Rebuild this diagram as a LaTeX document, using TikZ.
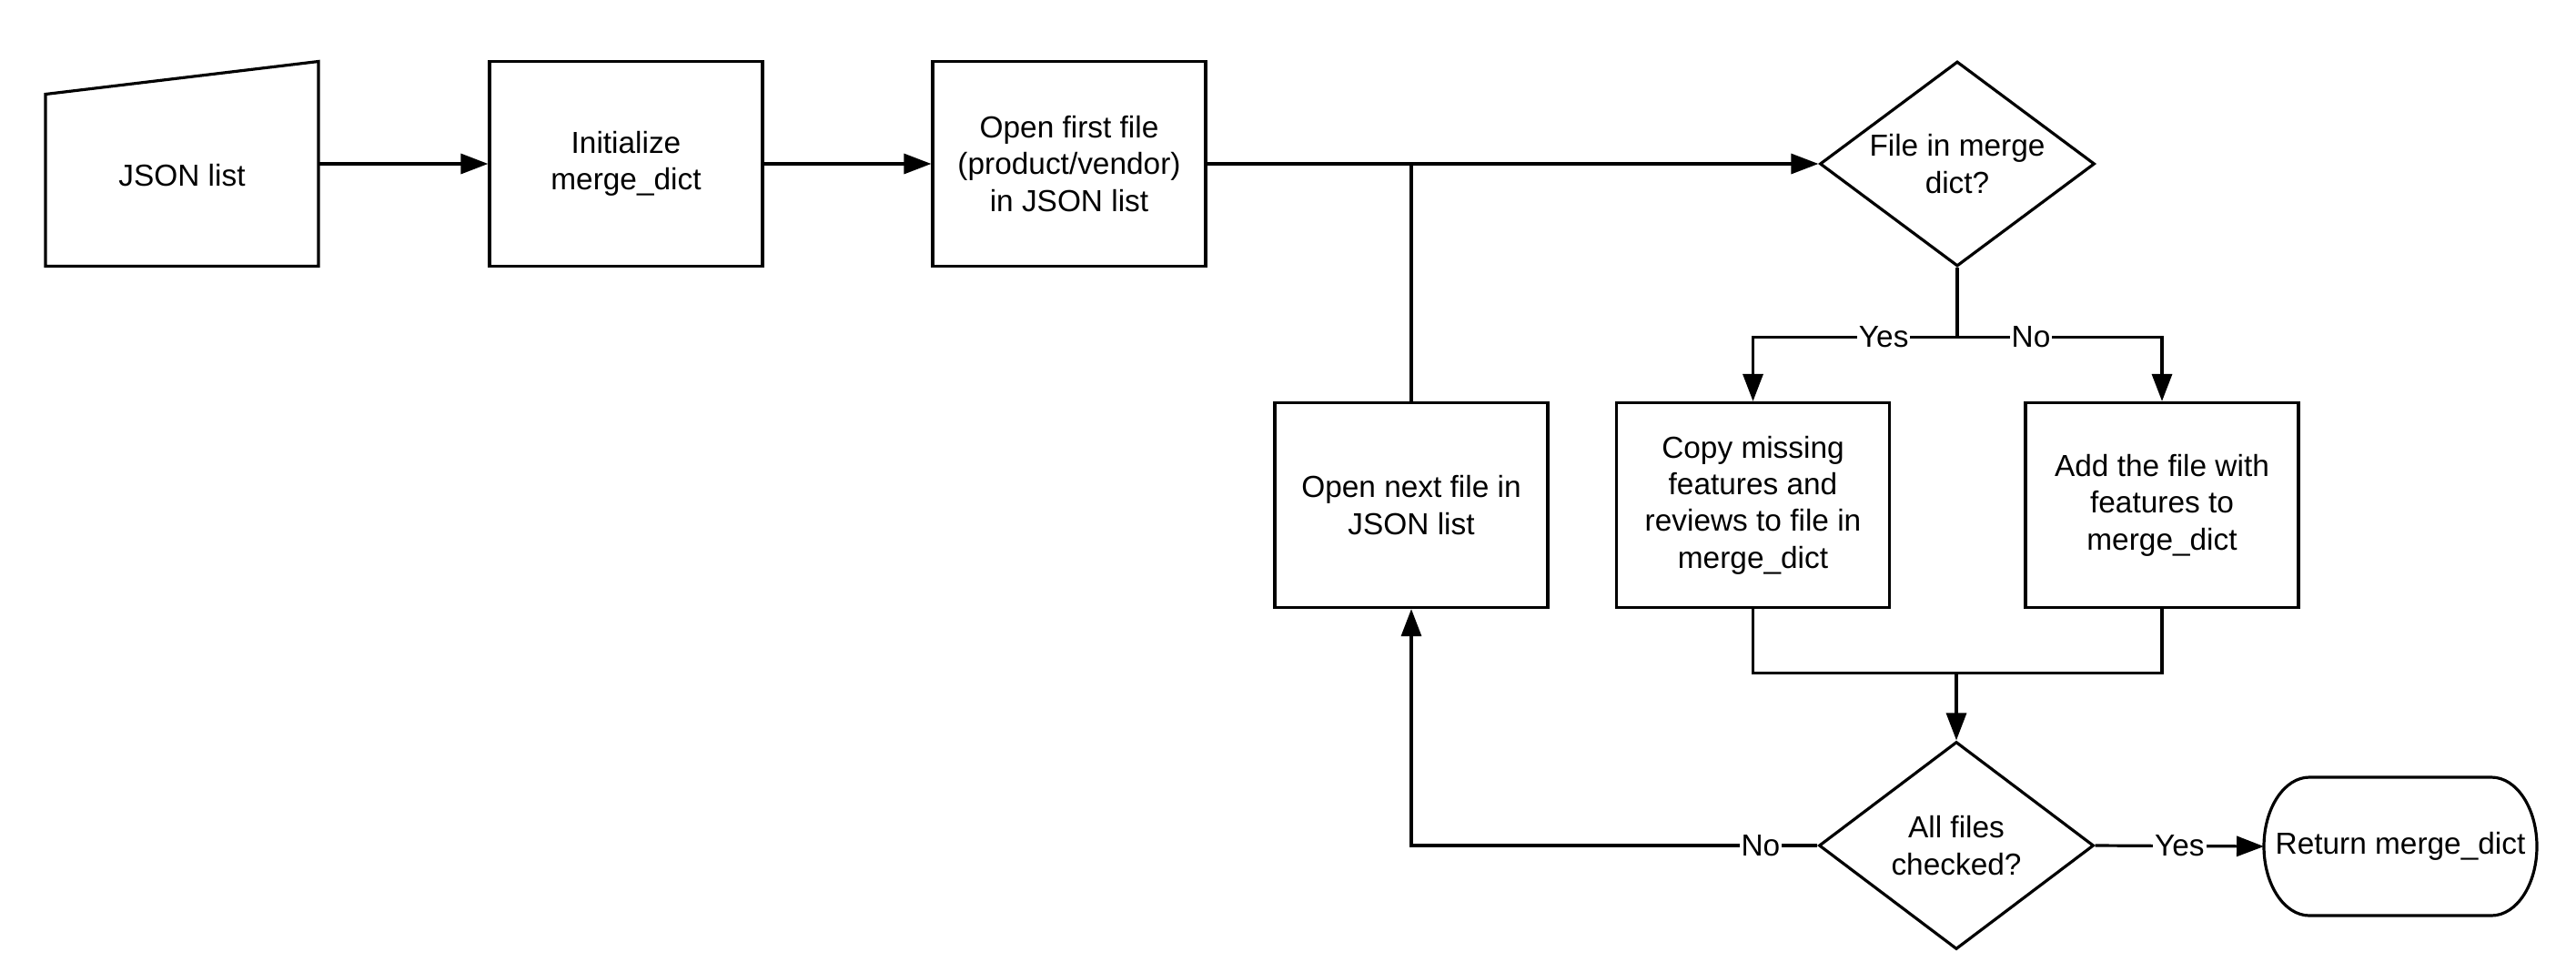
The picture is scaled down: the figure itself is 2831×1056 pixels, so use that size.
\documentclass[tikz,border=0pt]{standalone}
\usepackage{fontspec}
\setmainfont{Liberation Sans}
\usetikzlibrary{arrows.meta,shapes.geometric,calc}
\begin{document}
\begin{tikzpicture}[x=0.5pt,y=-0.5pt,
  every node/.style={font=\fontsize{16.7pt}{20.2pt}\selectfont},
  box/.style={draw, line width=1.6pt, minimum width=150pt, minimum height=112.5pt, inner sep=0pt, align=center},
  ghost/.style={box, draw=none, outer sep=0pt},
  dia/.style={draw, diamond, line width=1.6pt, shape aspect=1.34, minimum width=151pt, minimum height=112.5pt, inner sep=0pt, align=center},
  conn/.style={line width=1.6pt},
  arr/.style={conn, -{Triangle[length=15pt,width=11pt]}},
  lbl/.style={fill=white, inner sep=1pt}]
\useasboundingbox (0,0) rectangle (2831,1056);

% nodes
\node[ghost] (json) at (200,180) {};
\node (jsonlbl) at ($(json.center)+(0,13)$) {JSON list};
\draw[conn] ($(json.north west)!0.16!(json.south west)$) -- (json.north east) -- (json.south east) -- (json.south west) -- cycle;
\node[box] (init) at (688,180) {Initialize\\merge\_dict};
\node[box] (open1) at (1175,180) {Open first file\\(product/vendor)\\in JSON list};
\node[dia] (d1) at (2151,180) {File in merge\\dict?};
\node[box] (next) at (1551,555) {Open next file in\\JSON list};
\node[box] (copy) at (1926.5,555) {Copy missing\\features and\\reviews to file in\\merge\_dict};
\node[box] (add) at (2376,555) {Add the file with\\features to\\merge\_dict};
\node[dia, minimum height=114pt] (d2) at (2150,929) {All files\\checked?};
\node[ghost, minimum height=76pt] (ret) at (2638,930) {Return merge\_dict};
\draw[conn] ($(ret.north west)+(50,0)$) -- ($(ret.north east)+(-50,0)$)
  arc[start angle=90,end angle=-90,x radius=25pt,y radius=38pt]
  -- ($(ret.south west)+(50,0)$)
  arc[start angle=270,end angle=90,x radius=25pt,y radius=38pt] -- cycle;

% connectors
\draw[arr] (json.east) -- (init.west);
\draw[arr] (init.east) -- (open1.west);
\draw[arr] (open1.east) -- (d1.west);
\draw[conn] (next.north) -- (next.north |- open1.east);
\coordinate (split) at ($(d1.south)+(0,76)$);
\draw[conn] (d1.south) -- (split);
\draw[arr] (split) -| node[lbl,pos=0.18]{Yes} (copy.north);
\draw[arr] (split) -| node[lbl,pos=0.18]{No} (add.north);
\coordinate (merge) at ($(d2.north)+(0,-74)$);
\draw[conn] (copy.south) |- (merge);
\draw[conn] (add.south) |- (merge);
\draw[arr] (merge) -- (d2.north);
\draw[arr] (d2.west) -| node[lbl,pos=0.07]{No} (next.south);
\draw[arr] (d2.east) -- node[lbl]{Yes} (ret.west);
\end{tikzpicture}
\end{document}
